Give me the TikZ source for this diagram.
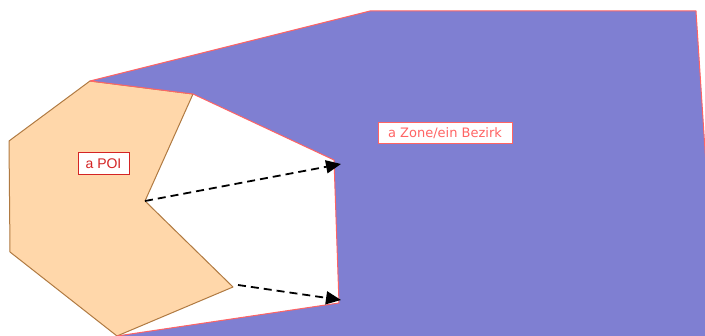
\documentclass[tikz,border=0pt]{standalone}
\usepackage{fontspec}
\setmainfont{Liberation Sans}
\newfontfamily\zonefont{DejaVu Sans}
\usepackage{tikz}
\usetikzlibrary{arrows.meta}
\usetikzlibrary{positioning}

\definecolor{zoneblue}{RGB}{127,127,210}
\definecolor{zoneborder}{RGB}{255,100,100}
\definecolor{poipeach}{RGB}{255,215,170}
\definecolor{poiborder}{RGB}{176,122,66}
\definecolor{labelred}{RGB}{212,36,36}

\begin{document}
\begin{tikzpicture}[x=1pt,y=-1pt,
    zone/.style={fill=zoneblue,draw=zoneborder,line width=1pt,line join=round},
    poi/.style={fill=poipeach,draw=poiborder,line width=1pt,line join=round},
    gap/.style={draw,dashed,line width=1.8pt,dash pattern=on 8pt off 5pt,
        -{Triangle[length=15pt,width=13pt]}},
    poilabel/.style={draw=labelred,fill=white,text=labelred,line width=1pt,
        inner sep=0pt,minimum width=51pt,minimum height=22pt,font=\fontsize{14}{14}\selectfont},
    zonelabel/.style={draw=zoneborder,fill=white,text=zoneborder,line width=1pt,
        inner sep=0pt,minimum width=134pt,minimum height=21pt,font=\zonefont\fontsize{13}{13}\selectfont}]
    \useasboundingbox (0,0) rectangle (705,336);
    \clip (0,0) rectangle (705,336);
    % corners of the POI
    \coordinate (p1) at (90,81);
    \coordinate (p2) at (193,94);
    \coordinate (p3) at (145,201);
    \coordinate (p4) at (233,287);
    \coordinate (p5) at (117,336);
    \coordinate (p6) at (10,252);
    \coordinate (p7) at (9,141);
    % corners of the zone
    \coordinate (z1) at (370,11);
    \coordinate (z2) at (696,11);
    \coordinate (z3) at (718,350);
    \coordinate (z4) at (110,350);
    \coordinate (z5) at (339,303);
    \coordinate (z6) at (334,160);
    % arrow ends
    \coordinate (s2) at (238,285);
    \coordinate (t1) at (341,164);
    \coordinate (t2) at (341,300);
    \path[poi] (p1) -- (p2) -- (p3) -- (p4) -- (p5) -- (p6) -- (p7) -- cycle;
    \path[zone] (p1) -- (z1) -- (z2) -- (z3) -- (z4) -- (p5) -- (z5) -- (z6) -- (p2) -- cycle;
    \draw[gap] (p3) -- (t1);
    \draw[gap] (s2) -- (t2);
    \node[poilabel] (poi) at (103.5,164) {a POI};
    \node[zonelabel] (zonename) at (445,133.5) {a Zone/ein Bezirk};
\end{tikzpicture}
\end{document}
